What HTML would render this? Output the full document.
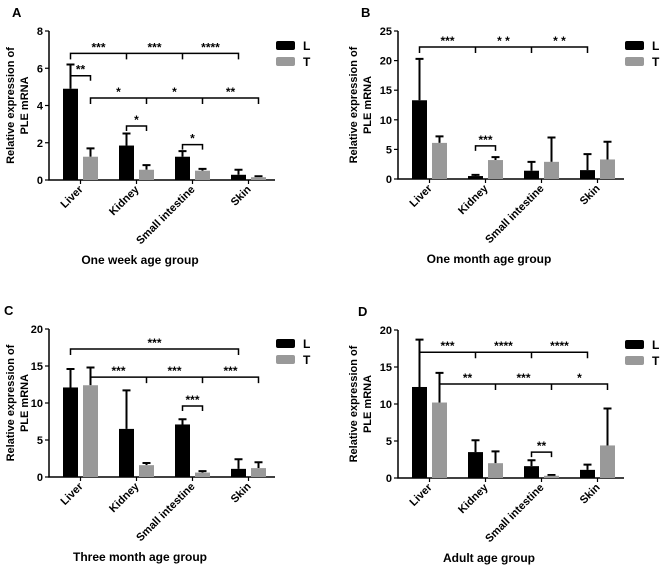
<!DOCTYPE html>
<html><head><meta charset="utf-8"><style>
body{margin:0;background:#fff}
svg{display:block;font-family:"Liberation Sans",Arial,sans-serif}
</style></head><body>
<svg id="fig" width="660" height="573" viewBox="0 0 660 573"></svg>
<script>
const categories = ["Liver","Kidney","Small intestine","Skin"];
const seriesNames = ["L","T"];
const aL = [4.9,1.85,1.25,0.28], aLerr = [6.2,2.5,1.55,0.55];
const aT = [1.25,0.55,0.5,0.15], aTerr = [1.7,0.8,0.6,0.2];
const bL = [13.3,0.5,1.4,1.5], bLerr = [20.3,0.7,2.9,4.2];
const bT = [6.1,3.2,2.9,3.3], bTerr = [7.2,3.7,7.0,6.3];
const cL = [12.1,6.5,7.1,1.1], cLerr = [14.6,11.7,7.8,2.4];
const cT = [12.4,1.6,0.6,1.2], cTerr = [14.8,1.9,0.8,2.0];
const dL = [12.3,3.5,1.6,1.1], dLerr = [18.7,5.1,2.4,1.8];
const dT = [10.2,2.0,0.3,4.4], dTerr = [14.2,3.6,0.4,9.4];
const aTicks = [0,2,4,6,8], bTicks = [0,5,10,15,20,25], cTicks = [0,5,10,15,20], dTicks = [0,5,10,15,20];
const aBrackets = [{y:6.8,s:0,ticks:true,labels:["***","***","****"]},{y:4.4,s:1,ticks:true,labels:["*","*","**"]}];
const bBrackets = [{y:22.3,s:0,ticks:true,labels:["***","* *","* *"]}];
const cBrackets = [{y:17.3,s:0,ticks:false,labels:["***"]},{y:13.5,s:1,ticks:true,labels:["***","***","***"]}];
const dBrackets = [{y:17.0,s:0,ticks:true,labels:["***","****","****"]},{y:12.7,s:1,ticks:true,labels:["**","***","*"]}];
const aPairs = [{g:0,y:5.6,label:"**"},{g:1,y:2.9,label:"*"},{g:2,y:1.9,label:"*"}];
const bPairs = [{g:1,y:5.6,label:"***"}];
const cPairs = [{g:2,y:9.6,label:"***"}];
const dPairs = [{g:2,y:3.5,label:"**"}];

const NS="http://www.w3.org/2000/svg", svg=document.getElementById('fig');
function mk(tag,at,parent,txt){const e=document.createElementNS(NS,tag);for(const k in at)e.setAttribute(k,at[k]);if(txt!==undefined)e.textContent=txt;(parent||svg).appendChild(e);return e;}

const panels=[
 {id:'a',letter:'A',left:49,top:31,bottom:180,max:8,ticks:aTicks,L:aL,Le:aLerr,T:aT,Te:aTerr,br:aBrackets,pr:aPairs,title:"One week age group",yt:35,lx:12},
 {id:'b',letter:'B',left:398,top:31,bottom:179,max:25,ticks:bTicks,L:bL,Le:bLerr,T:bT,Te:bTerr,br:bBrackets,pr:bPairs,title:"One month age group",yt:41,lx:361},
 {id:'c',letter:'C',left:49,top:329,bottom:477,max:20,ticks:cTicks,L:cL,Le:cLerr,T:cT,Te:cTerr,br:cBrackets,pr:cPairs,title:"Three month age group",yt:35,lx:4},
 {id:'d',letter:'D',left:398,top:330,bottom:478,max:20,ticks:dTicks,L:dL,Le:dLerr,T:dT,Te:dTerr,br:dBrackets,pr:dPairs,title:"Adult age group",yt:41,lx:358}
];
panels.forEach(p=>{
 const g=mk('g',{});
 
 
 const yS=v=>p.bottom-(v/p.max)*(p.bottom-p.top);
 const bw=15, xL=i=>p.left+14+i*56, xT=i=>xL(i)+20;
 const cx=(s,i)=>(s?xT(i):xL(i))+bw/2;
 const letter=mk('text',{x:p.lx,y:p.top-14,'font-size':13,'font-weight':'bold'},g,p.letter);
 
 
 const ax=mk('path',{d:`M${p.left},${p.top}V${p.bottom}H${p.left+226}`,stroke:'#000','stroke-width':1.5,fill:'none'},g);
 
 
 p.ticks.forEach(t=>{
  mk('line',{x1:p.left-4,x2:p.left,y1:yS(t),y2:yS(t),stroke:'#000','stroke-width':1.2},g);
  const tl=mk('text',{x:p.left-6,y:yS(t)+4,'font-size':11,'font-weight':'bold','text-anchor':'end'},g,t);
  
  
 });
 const yt=mk('text',{transform:`translate(${p.left-p.yt},${(p.top+p.bottom)/2}) rotate(-90)`,'font-size':11,'font-weight':'bold','text-anchor':'middle'},g);
 
 
 mk('tspan',{x:0,dy:0},yt,'Relative expression of');
 mk('tspan',{x:0,dy:14},yt,'PLE mRNA');
 categories.forEach((c,i)=>{
  const gx=xL(i)+17.5;
  mk('line',{x1:gx,x2:gx,y1:p.bottom,y2:p.bottom+4,stroke:'#000','stroke-width':1.2},g);
  const xl=mk('text',{transform:`translate(${gx+3},${p.bottom+10}) rotate(-45)`,'font-size':11,'font-weight':'bold','text-anchor':'end'},g,c);
  
  
  [[p.L,p.Le,xL(i),'#000','L'],[p.T,p.Te,xT(i),'#999','T']].forEach(([v,e,x,col,n])=>{
   const ex=x+bw/2;
   const el=mk('path',{d:`M${ex},${yS(v[i])}V${yS(e[i])}M${ex-4},${yS(e[i])}H${ex+4}`,stroke:'#000','stroke-width':2,fill:'none'},g);
   
   
   const r=mk('rect',{x:x,y:yS(v[i]),width:bw,height:p.bottom-yS(v[i]),fill:col},g);
   
   
  });
 });
 p.br.forEach(b=>{
  const y=yS(b.y), x0=cx(b.s,0), x3=cx(b.s,3);
  let d=`M${x0},${y+6}V${y}H${x3}V${y+6}`;
  if(b.ticks)[1,2].forEach(i=>{d+=`M${cx(b.s,i)},${y}V${y+6}`;});
  const bp=mk('path',{d:d,stroke:'#000','stroke-width':1.5,fill:'none'},g);
  
  
  const n=b.labels.length;
  b.labels.forEach((l,k)=>{
   const lx=x0+(x3-x0)*(k+0.5)/n;
   const st=mk('text',{x:lx,y:y-2,'font-size':12,'font-weight':'bold','text-anchor':'middle'},g,l);
   
   
  });
 });
 p.pr.forEach(q=>{
  const y=yS(q.y), x0=cx(0,q.g), x1=cx(1,q.g);
  const pp=mk('path',{d:`M${x0},${y+5}V${y}H${x1}V${y+5}`,stroke:'#000','stroke-width':1.5,fill:'none'},g);
  
  
  const pl=mk('text',{x:(x0+x1)/2,y:y-2,'font-size':12,'font-weight':'bold','text-anchor':'middle'},g,q.label);
  
  
 });
 seriesNames.forEach((s,k)=>{
  const ly=p.top+10+k*16;
  const lr=mk('rect',{x:p.left+227,y:ly,width:19,height:9,rx:2,fill:k?'#999':'#000'},g);
  
  
  const lt=mk('text',{x:p.left+254,y:ly+9,'font-size':12,'font-weight':'bold'},g,s);
  
  
 });
 const xt=mk('text',{x:p.left+91,y:p.bottom+84,'font-size':12,'font-weight':'bold','text-anchor':'middle'},g,p.title);
 
 
});
</script>
</body></html>
